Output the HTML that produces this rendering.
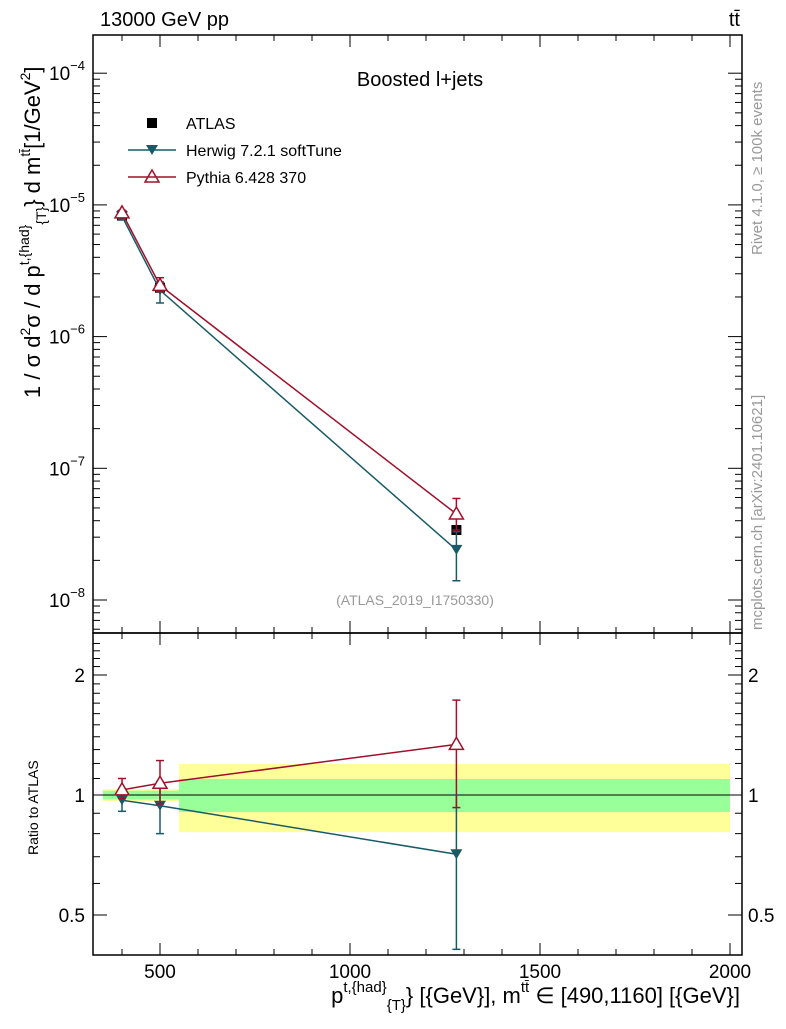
<!DOCTYPE html>
<html><head><meta charset="utf-8"><style>
body{margin:0;background:#fff;font-family:"Liberation Sans",sans-serif}
svg text{font-family:"Liberation Sans",sans-serif}
</style></head><body>
<svg id="c" width="786" height="1024" viewBox="0 0 786 1024" xmlns="http://www.w3.org/2000/svg">
<text x="100" y="26" font-size="20">13000 GeV pp</text>
<text x="740" y="26" font-size="20" text-anchor="end">tt̄</text>
<text x="420" y="86" font-size="20" text-anchor="middle">Boosted l+jets</text>
<text x="415" y="605" font-size="14" fill="#999" text-anchor="middle">(ATLAS_2019_I1750330)</text>
<text transform="translate(762,255) rotate(-90)" font-size="15" fill="#999">Rivet 4.1.0, ≥ 100k events</text>
<text transform="translate(762,630) rotate(-90)" font-size="15" fill="#999">mcplots.cern.ch [arXiv:2401.10621]</text>
<text transform="translate(40,398) rotate(-90)" font-size="22">1 / σ d<tspan font-size="14" dy="-10">2</tspan><tspan dy="10">σ / d p</tspan><tspan font-size="14" dy="-11">t,{had}</tspan><tspan font-size="14" dy="17">{T}</tspan><tspan dy="-6">} d m</tspan><tspan font-size="14" dy="-10">tt̄</tspan><tspan dy="10">[1/GeV</tspan><tspan font-size="14" dy="-10">2</tspan><tspan dy="10">]</tspan></text>
<text transform="translate(38,855) rotate(-90)" font-size="14">Ratio to ATLAS</text>
<text x="740" y="1003" font-size="22" text-anchor="end">p<tspan font-size="15" dy="-11">t,{had}</tspan><tspan font-size="15" dy="18">{T}</tspan><tspan dy="-7">} [{GeV}], m</tspan><tspan font-size="15" dy="-11">tt̄</tspan><tspan dy="11"> ∈ [490,1160] [{GeV}]</tspan></text>
<g id="legend">
<rect x="147" y="118" width="10" height="10" fill="#000"/>
<text x="186" y="129" font-size="16">ATLAS</text>
<line x1="128" y1="150" x2="176" y2="150" stroke="#1a5a66" stroke-width="1.5"/>
<path d="M146,145 L158,145 L152,155 Z" fill="#1a5a66"/>
<text x="186" y="156" font-size="16">Herwig 7.2.1 softTune</text>
<line x1="128" y1="177" x2="176" y2="177" stroke="#a0102a" stroke-width="1.5"/>
<path d="M152,170 L159,182 L145,182 Z" fill="none" stroke="#a0102a" stroke-width="1.5"/>
<text x="186" y="183" font-size="16">Pythia 6.428 370</text>
</g>
<g id="g"></g>
</svg>
<script>
const binLo=[350,450,550], binHi=[450,550,2000];
const xPts=[400,500,1280];
const atlas=[8.3e-6,2.35e-6,3.4e-8];
const herwig=[8.2e-6,2.25e-6,2.4e-8];
const herwigErrLo=[7.8e-6,1.8e-6,1.4e-8], herwigErrHi=[8.6e-6,2.6e-6,3.3e-8];
const pythia=[8.7e-6,2.45e-6,4.5e-8];
const pythiaErrLo=[8.4e-6,2.2e-6,3.4e-8], pythiaErrHi=[9.1e-6,2.8e-6,5.9e-8];
const herwigRatio=[0.97,0.94,0.71], herwigRLo=[0.91,0.8,0.41], herwigRHi=[1.03,1.08,1.0];
const pythiaRatio=[1.03,1.07,1.34], pythiaRLo=[0.98,0.95,0.93], pythiaRHi=[1.1,1.22,1.73];
const greenLo=[0.975,0.975,0.906], greenHi=[1.025,1.025,1.097];
const yellowLo=[0.965,0.965,0.807], yellowHi=[1.035,1.035,1.196];
const xTicks=[500,1000,1500,2000];
const yTicksExp=[-8,-7,-6,-5,-4];
const rTicks=[0.5,1,2];

const NS="http://www.w3.org/2000/svg", g=document.getElementById('g');
const L=93,R=742,T=35,M=633,B=955;
const X=v=>160+(v-500)*0.38;
const Y=v=>600-(Math.log10(v)+8)*131.7;
const RY=v=>795-Math.log10(v)*398.6;
function el(t,a,n){const e=document.createElementNS(NS,t);for(const k in a)e.setAttribute(k,a[k]);


g.appendChild(e);return e;}
for(let i=0;i<3;i++){
 el('rect',{x:X(binLo[i]),y:RY(yellowHi[i]),width:X(binHi[i])-X(binLo[i]),height:RY(yellowLo[i])-RY(yellowHi[i]),fill:'#ffff99'},'yellow-band');
 el('rect',{x:X(binLo[i]),y:RY(greenHi[i]),width:X(binHi[i])-X(binLo[i]),height:RY(greenLo[i])-RY(greenHi[i]),fill:'#99ff99'},'green-band');
}
el('line',{x1:X(350),x2:X(2000),y1:RY(1),y2:RY(1),stroke:'#000'},'ratio-unity-line');
el('rect',{x:L,y:T,width:R-L,height:M-T,fill:'none',stroke:'#000','stroke-width':1.5},'main-frame');
el('rect',{x:L,y:M,width:R-L,height:B-M,fill:'none',stroke:'#000','stroke-width':1.5},'ratio-frame');
for(const v of xTicks){
 for(const [y0,s] of [[M,-1],[B,-1],[T,1],[M,1]]){el('line',{x1:X(v),x2:X(v),y1:y0,y2:y0+s*12,stroke:'#000'},'x-tick');}
 const t=el('text',{x:X(v),y:B+23,'font-size':19,'text-anchor':'middle'},'x-tick-label');t.textContent=v;
}
for(let v=400;v<=2000;v+=100){if(v%500)for(const [y0,s] of [[M,-1],[B,-1],[T,1],[M,1]])el('line',{x1:X(v),x2:X(v),y1:y0,y2:y0+s*6,stroke:'#000'},'x-minor-tick');}
for(const e of yTicksExp){
 const y=Y(Math.pow(10,e));
 el('line',{x1:L,x2:L+14,y1:y,y2:y,stroke:'#000'},'y-tick');el('line',{x1:R,x2:R-14,y1:y,y2:y,stroke:'#000'},'y-tick');
 const t=el('text',{x:L-8,y:y+7,'font-size':19,'text-anchor':'end'},'y-tick-label');
 t.innerHTML='10<tspan font-size="13" dy="-10">'+(e<0?'−':'')+Math.abs(e)+'</tspan>';
 for(let k=2;k<10;k++){const yy=Y(k*Math.pow(10,e-1));if(yy>T&&yy<M){el('line',{x1:L,x2:L+7,y1:yy,y2:yy,stroke:'#000'},'y-minor-tick');el('line',{x1:R,x2:R-7,y1:yy,y2:yy,stroke:'#000'},'y-minor-tick');}}
}
for(const v of rTicks){const y=RY(v);
 el('line',{x1:L,x2:L+14,y1:y,y2:y,stroke:'#000'},'ratio-tick');el('line',{x1:R,x2:R-14,y1:y,y2:y,stroke:'#000'},'ratio-tick');
 let t=el('text',{x:L-8,y:y+7,'font-size':19,'text-anchor':'end'},'ratio-tick-label');t.textContent=v;
 t=el('text',{x:748,y:y+7,'font-size':19},'ratio-tick-label-right');t.textContent=v;}
for(const v of [0.6,0.7,0.8,0.9,1.1,1.2,1.3,1.4,1.5,1.6,1.7,1.8,1.9,2.1,2.2,2.3,2.4]){const y=RY(v);if(y>M&&y<B){
 el('line',{x1:L,x2:L+7,y1:y,y2:y,stroke:'#000'},'ratio-minor-tick');el('line',{x1:R,x2:R-7,y1:y,y2:y,stroke:'#000'},'ratio-minor-tick');}}
function series(vals,lo,hi,col,yf,name,tri){
 el('polyline',{points:xPts.map((x,i)=>X(x)+','+yf(vals[i])).join(' '),fill:'none',stroke:col,'stroke-width':1.5},name+'-line');
 xPts.forEach((x,i)=>{
  el('line',{x1:X(x),x2:X(x),y1:yf(lo[i]),y2:yf(hi[i]),stroke:col,'stroke-width':1.5},name+'-errorbar');
  el('line',{x1:X(x)-4,x2:X(x)+4,y1:yf(lo[i]),y2:yf(lo[i]),stroke:col,'stroke-width':1.5},name+'-errorcap');
  el('line',{x1:X(x)-4,x2:X(x)+4,y1:yf(hi[i]),y2:yf(hi[i]),stroke:col,'stroke-width':1.5},name+'-errorcap');
  const px=X(x),py=yf(vals[i]);
  if(tri==='down')el('path',{d:`M${px-6},${py-5} L${px+6},${py-5} L${px},${py+5} Z`,fill:col},name+'-point');
  else el('path',{d:`M${px},${py-7} L${px+7},${py+5} L${px-7},${py+5} Z`,fill:'#fff',stroke:col,'stroke-width':1.5},name+'-point');
 });
}
xPts.forEach((x,i)=>el('rect',{x:X(x)-5,y:Y(atlas[i])-5,width:10,height:10,fill:'#000'},'atlas-point'));
series(herwig,herwigErrLo,herwigErrHi,'#1a5a66',Y,'herwig','down');
series(pythia,pythiaErrLo,pythiaErrHi,'#a0102a',Y,'pythia','up');
series(herwigRatio,herwigRLo,herwigRHi,'#1a5a66',RY,'herwig-ratio','down');
series(pythiaRatio,pythiaRLo,pythiaRHi,'#a0102a',RY,'pythia-ratio','up');
</script>
</body></html>
